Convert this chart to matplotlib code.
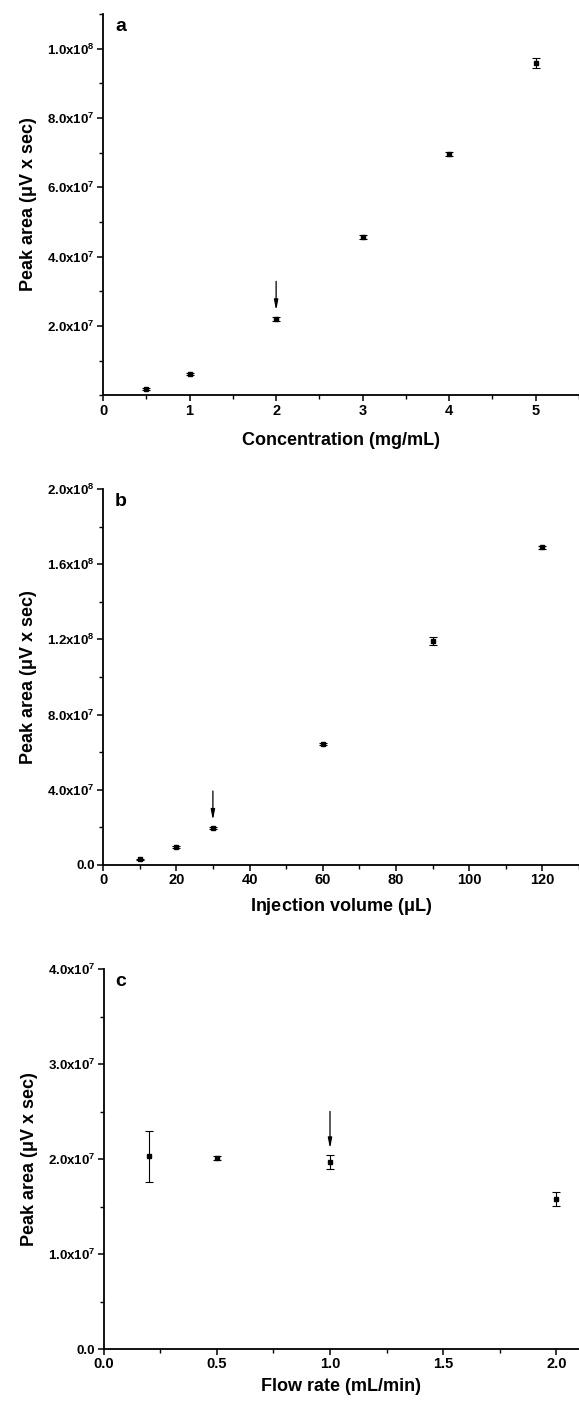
import matplotlib
matplotlib.use("Agg")
import matplotlib.pyplot as plt
from matplotlib.ticker import MultipleLocator

plt.rcParams['font.family'] = ['Liberation Sans', 'DejaVu Sans']
plt.rcParams['font.weight'] = 'bold'
plt.rcParams['mathtext.fontset'] = 'custom'
plt.rcParams['mathtext.rm'] = 'Liberation Sans:bold'
plt.rcParams['mathtext.it'] = 'Liberation Sans:bold'
plt.rcParams['mathtext.bf'] = 'Liberation Sans:bold'

# --- Data ---
conc = [0.5, 1, 2, 3, 4, 5]
conc_area = [1.8e6, 6.1e6, 2.2e7, 4.56e7, 6.96e7, 9.59e7]
conc_err = [3e5, 3e5, 5e5, 6e5, 5e5, 1.4e6]

vol = [10, 20, 30, 60, 90, 120]
vol_area = [3.0e6, 9.6e6, 1.98e7, 6.45e7, 1.19e8, 1.69e8]
vol_err = [4e5, 4e5, 4e5, 5e5, 2.1e6, 8e5]

flow = [0.2, 0.5, 1.0, 2.0]
flow_area = [2.03e7, 2.01e7, 1.97e7, 1.58e7]
flow_err = [2.7e6, 2e5, 7e5, 7e5]

YLABEL = r"Peak area ($\mu$V x sec)"

panels = [
    dict(label="a", x=conc, y=conc_area, err=conc_err, xlim=(0, 5.5), ylim=(0, 1.1e8),
         xticks=[0, 1, 2, 3, 4, 5], xmin=0.5, yticks=[2e7, 4e7, 6e7, 8e7, 1e8],
         ylabels=["2.0x10$^{7}$", "4.0x10$^{7}$", "6.0x10$^{7}$", "8.0x10$^{7}$", "1.0x10$^{8}$"],
         ymin=1e7, xfmt="{:.0f}", xlabel="Concentration (mg/mL)", arrow=2, arrow_len=36,
         labelpad=10, rect=[0.178, 0.7188, 0.822, 0.2713]),
    dict(label="b", x=vol, y=vol_area, err=vol_err, xlim=(0, 130), ylim=(0, 2e8),
         xticks=[0, 20, 40, 60, 80, 100, 120], xmin=10, yticks=[0, 4e7, 8e7, 1.2e8, 1.6e8, 2e8],
         ylabels=["0.0", "4.0x10$^{7}$", "8.0x10$^{7}$", "1.2x10$^{8}$", "1.6x10$^{8}$", "2.0x10$^{8}$"],
         ymin=2e7, xfmt="{:.0f}", xlabel=r"Injection volume ($\mu$L)", arrow=30, arrow_len=36,
         labelpad=6, rect=[0.178, 0.3848, 0.822, 0.2674]),
    dict(label="c", x=flow, y=flow_area, err=flow_err, xlim=(0, 2.1), ylim=(0, 4e7),
         xticks=[0.0, 0.5, 1.0, 1.5, 2.0], xmin=0.25, yticks=[0, 1e7, 2e7, 3e7, 4e7],
         ylabels=["0.0", "1.0x10$^{7}$", "2.0x10$^{7}$", "3.0x10$^{7}$", "4.0x10$^{7}$"],
         ymin=5e6, xfmt="{:.1f}", xlabel="Flow rate (mL/min)", arrow=1.0, arrow_len=44,
         labelpad=5, rect=[0.179, 0.0405, 0.821, 0.2701]),
]

fig = plt.figure(figsize=(5.79, 14.06), dpi=100)

for p in panels:
    ax = fig.add_axes(p["rect"])
    ax.errorbar(p["x"], p["y"], yerr=p["err"], fmt='s', color='black', ms=3.5,
                elinewidth=0.8, capsize=3, capthick=0.8, clip_on=False)
    for s in ("top", "right"):
        ax.spines[s].set_visible(False)
    for s in ("left", "bottom"):
        ax.spines[s].set_linewidth(1.3)

    ax.set_xticks(p["xticks"])
    ax.set_xticklabels([p["xfmt"].format(t) for t in p["xticks"]])
    ax.xaxis.set_minor_locator(MultipleLocator(p["xmin"]))
    ax.set_yticks(p["yticks"])
    ax.set_yticklabels(p["ylabels"])
    ax.yaxis.set_minor_locator(MultipleLocator(p["ymin"]))
    ax.set_xlim(*p["xlim"])
    ax.set_ylim(*p["ylim"])

    ax.tick_params(axis='x', which='major', direction='out', length=4, width=1.1, labelsize=10.5, pad=2)
    ax.tick_params(axis='x', which='minor', direction='out', length=3, width=1.0)
    ax.tick_params(axis='y', which='major', direction='out', length=4, width=1.1, labelsize=9.5, pad=2)
    ax.tick_params(axis='y', which='minor', direction='out', length=3, width=1.0)

    ax.set_xlabel(p["xlabel"], fontsize=13, fontweight='bold', labelpad=p["labelpad"])
    ax.set_ylabel(YLABEL, fontsize=13, fontweight='bold', labelpad=6)

    ax.text(0.025, 0.99, p["label"], transform=ax.transAxes, fontsize=14,
            fontweight='bold', va='top', ha='left')

    # arrow pointing to the chosen condition
    i = p["x"].index(p["arrow"])
    top = (p["x"][i], p["y"][i] + p["err"][i])
    ax.annotate("", xy=top, xytext=(0, p["arrow_len"]), textcoords='offset pixels',
                arrowprops=dict(arrowstyle="-|>,head_length=0.6,head_width=0.12",
                                color='black', lw=0.9, shrinkA=0, shrinkB=5))

fig.savefig("out.png", dpi=100)
